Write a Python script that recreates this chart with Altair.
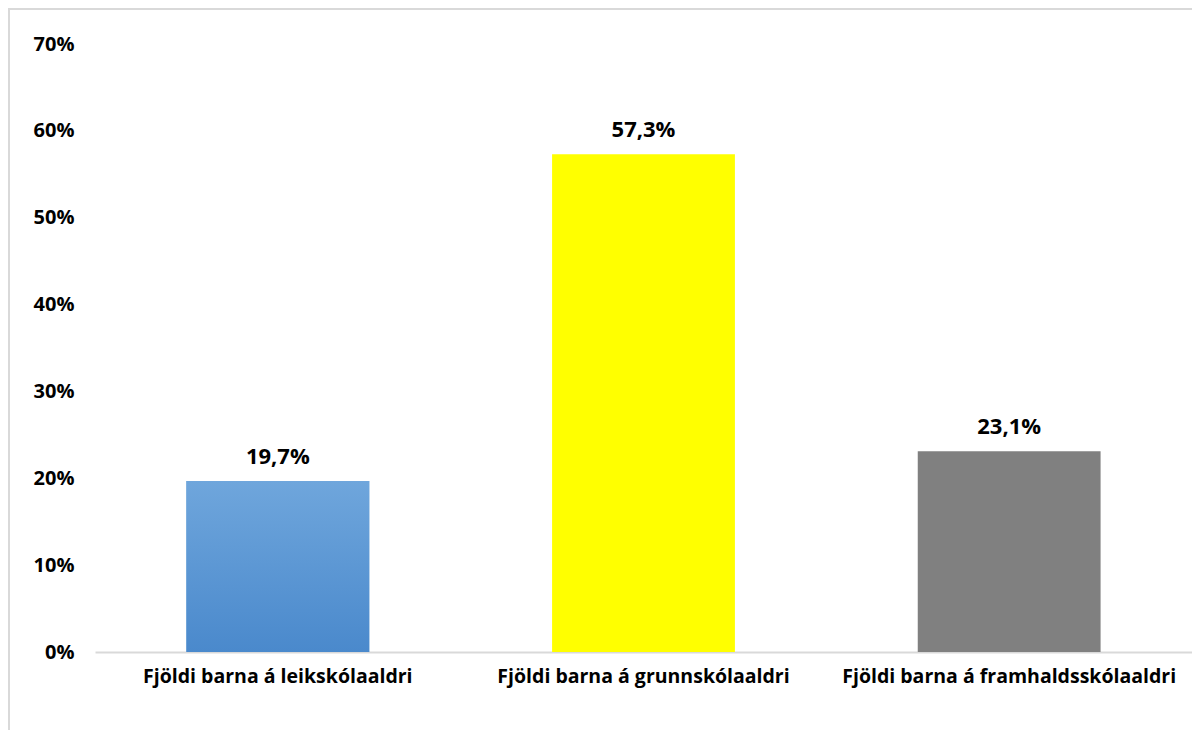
import altair as alt
import pandas as pd

categories = [
    "Fjöldi barna á leikskólaaldri",
    "Fjöldi barna á grunnskólaaldri",
    "Fjöldi barna á framhaldsskólaaldri",
]
values = [19.7, 57.3, 23.1]
labels = ["19,7%", "57,3%", "23,1%"]
colors = ["#5b9bd5", "#ffff00", "#808080"]
y_ticks = [0, 10, 20, 30, 40, 50, 60, 70]

df = pd.DataFrame({"cat": categories, "val": values, "lab": labels, "col": colors})

FONT = "Open Sans"

x_enc = alt.X(
    "cat:N",
    sort=categories,
    scale=alt.Scale(paddingInner=0.5, paddingOuter=0.25),
    axis=alt.Axis(
        title=None, labelAngle=0, ticks=False, labelPadding=15, labelLimit=0,
        labelFont=FONT, labelFontSize=19.5, labelFontWeight="bold", labelColor="#000000",
        domainColor="#d9d9d9", domainWidth=2, grid=False,
    ),
)
y_enc = alt.Y(
    "val:Q",
    scale=alt.Scale(domain=[0, 70], nice=False),
    axis=alt.Axis(
        title=None, values=y_ticks, labelExpr="datum.value + '%'", grid=False,
        ticks=False, domain=False, labelPadding=21,
        labelFont=FONT, labelFontSize=20, labelFontWeight="bold", labelColor="#000000",
    ),
)

border_top = alt.Chart(df).mark_rule(
    stroke="#d9d9d9", strokeWidth=2, clip=False
).encode(x=alt.value(-87), x2=alt.value(1120), y=alt.value(-35))

border_left = alt.Chart(df).mark_rule(
    stroke="#d9d9d9", strokeWidth=2, clip=False
).encode(x=alt.value(-86), y=alt.value(-35), y2=alt.value(720))

bars = alt.Chart(df).mark_bar().encode(
    x=x_enc, y=y_enc, color=alt.Color("col:N", scale=None)
)

blue = alt.Chart(df).transform_filter(
    alt.datum.cat == categories[0]
).mark_bar(
    color=alt.Gradient(
        gradient="linear",
        stops=[alt.GradientStop(color="#6fa6dc", offset=0),
               alt.GradientStop(color="#4a89cc", offset=1)],
        x1=0, x2=0, y1=0, y2=1,
    )
).encode(x=x_enc, y=y_enc)

text = alt.Chart(df).mark_text(
    baseline="alphabetic", dy=-17, font=FONT, fontSize=22, fontWeight="bold", color="#000000"
).encode(x=x_enc, y=y_enc, text="lab:N")

chart = alt.layer(border_top, border_left, bars, blue, text).properties(
    width=1097, height=608,
    background="#ffffff",
    padding={"left": 87, "top": 36, "right": 0, "bottom": 78},
    autosize=alt.AutoSizeParams(type="none"),
).configure_view(stroke=None)

chart.save("out.html", embed_options={"renderer": "svg", "actions": False})
